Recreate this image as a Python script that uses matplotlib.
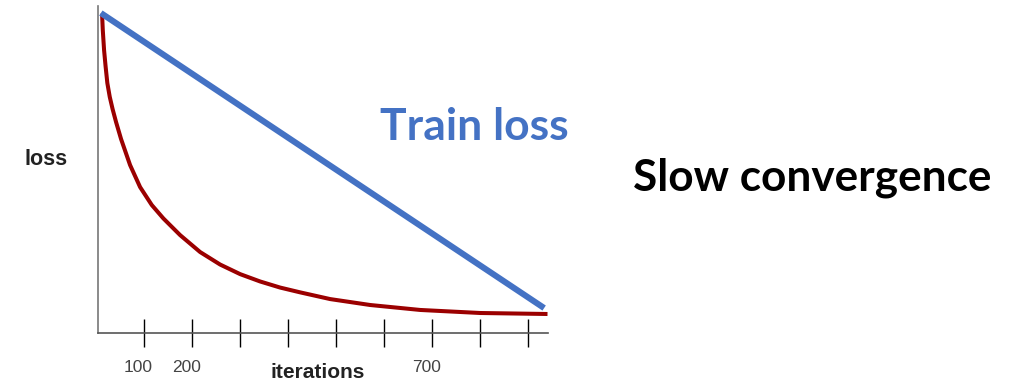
import matplotlib
matplotlib.use("Agg")
import matplotlib.pyplot as plt
import matplotlib.transforms as mtransforms

iters = [12.5, 14, 16.7, 19.8, 23.5, 28.5, 34.4, 41.7, 52.1, 70.8, 91.7, 116, 140.2,
         175, 216.7, 258.3, 300, 341.7, 383.3, 425, 487.5, 570.8, 675, 800, 940]
loss = [0.998, 0.947, 0.884, 0.834, 0.781, 0.738, 0.700, 0.659, 0.606, 0.525, 0.456, 0.400, 0.358,
        0.306, 0.253, 0.214, 0.184, 0.161, 0.142, 0.127, 0.106, 0.0875, 0.072, 0.0625, 0.0594]

# blue straight line (train loss)
train_iters = [10, 933]
train_loss = [1.0, 0.078]

ticks = [100, 200, 300, 400, 500, 600, 700, 800, 900]
tick_labels = ['100', '200', '', '', '', '', '700', '', '']

W, H = 1025, 387
fig = plt.figure(figsize=(W / 100, H / 100), dpi=100)
ax = fig.add_axes([97.5 / W, 54 / H, 450 / W, 327 / H])

ax.plot(iters, loss, color='#9b0000', lw=2.9, solid_capstyle='butt',
        solid_joinstyle='round', zorder=3)
ax.plot(train_iters, train_loss, color='#4472c4', lw=4.4, solid_capstyle='butt', zorder=4)

ax.set_xlim(3, 940)
ax.set_ylim(0, 1.022)

for s in ['top', 'right']:
    ax.spines[s].set_visible(False)
ax.spines['left'].set_color('#777777')
ax.spines['bottom'].set_color('#555555')
ax.spines['left'].set_linewidth(1.2)
ax.spines['bottom'].set_linewidth(1.2)

ax.set_yticks([])
ax.set_xticks(ticks)
ax.set_xticklabels(tick_labels, fontsize=12.5, color='#444444', family='Liberation Sans')
ax.tick_params(axis='x', direction='inout', length=19.5, width=1, color='black', pad=10)
offset = mtransforms.ScaledTranslation(-6 / 100, 0, fig.dpi_scale_trans)
for lab in ax.get_xticklabels():
    lab.set_transform(lab.get_transform() + offset)

fig.text(318 / W, 1 - 373 / H, 'iterations', ha='center', va='center',
         fontsize=15, fontweight='bold', color='#222222', family='Liberation Sans')
fig.text(46 / W, 1 - 160 / H, 'loss', ha='center', va='center',
         fontsize=15.5, fontweight='bold', color='#222222', family='Liberation Sans')

fig.text(380 / W, 1 - 140 / H, 'Train loss', ha='left', va='baseline',
         fontsize=32, fontweight='bold', color='#4472c4', family='Lato')
fig.text(633 / W, 1 - 190 / H, 'Slow convergence', ha='left', va='baseline',
         fontsize=31.8, fontweight='bold', color='black', family='Lato')

fig.savefig('out.png', dpi=100)
